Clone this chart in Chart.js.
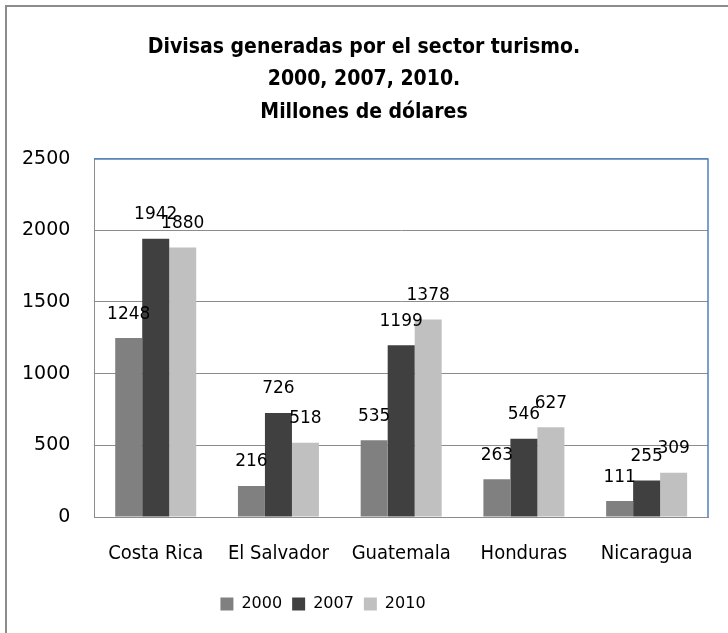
<!DOCTYPE html>
<html><head><meta charset="utf-8">
<script src="https://cdn.jsdelivr.net/npm/chart.js@4"></script>
<style>html,body{margin:0;padding:0;background:#fff;}#wrap{width:728px;height:633px;position:relative;}</style>
</head><body><div id="wrap"><canvas id="c" width="728" height="633"></canvas></div>
<script>
const categories = ["Costa Rica", "El Salvador", "Guatemala", "Honduras", "Nicaragua"];
const seriesNames = ["2000", "2007", "2010"];
const values2000 = [1248, 216, 535, 263, 111];
const values2007 = [1942, 726, 1199, 546, 255];
const values2010 = [1880, 518, 1378, 627, 309];
const yTicks = [0, 500, 1000, 1500, 2000, 2500];
const titleLines = ["Divisas generadas por el sector turismo.", "2000, 2007, 2010.", "Millones de dólares"];

const colors = ["#808080", "#404040", "#c0c0c0"];
const narrow = "'Liberation Sans Narrow', 'DejaVu Sans Condensed', sans-serif";
const wide = "'DejaVu Sans', sans-serif";

const outerBorder = {
  id: 'outerBorder',
  beforeDraw(chart) {
    const ctx = chart.ctx;
    ctx.save();
    ctx.fillStyle = '#fff';
    ctx.fillRect(0, 0, chart.width, chart.height);
    ctx.strokeStyle = '#8c8c8c';
    ctx.lineWidth = 2;
    ctx.beginPath();
    ctx.moveTo(6, chart.height + 5);
    ctx.lineTo(6, 6);
    ctx.lineTo(chart.width + 5, 6);
    ctx.stroke();
    ctx.restore();
  }
};
const plotBorder = {
  id: 'plotBorder',
  afterDraw(chart) {
    const a = chart.chartArea, ctx = chart.ctx;
    ctx.save();
    ctx.lineWidth = 1.5;
    ctx.strokeStyle = '#4f81bd';
    ctx.beginPath();
    ctx.moveTo(Math.round(a.left), Math.round(a.top));
    ctx.lineTo(Math.round(a.right), Math.round(a.top));
    ctx.lineTo(Math.round(a.right), Math.round(a.bottom));
    ctx.stroke();
    ctx.restore();
  }
};
const blockShift = {
  id: 'blockShift',
  afterLayout(chart) {
    const lg = chart.legend;
    if (lg) { lg.left -= 30; lg.right -= 30; lg.top -= 5; lg.bottom -= 5; }
    const tb = chart.titleBlock;
    if (tb) { tb.left += 11; tb.right += 11; }
  }
};
const dataLabels = {
  id: 'dataLabels',
  afterDatasetsDraw(chart) {
    const ctx = chart.ctx;
    ctx.save();
    ctx.font = "17px " + wide;
    ctx.fillStyle = '#000';
    ctx.textAlign = 'center';
    ctx.textBaseline = 'middle';
    chart.data.datasets.forEach((ds, i) => {
      chart.getDatasetMeta(i).data.forEach((el, j) => {
        ctx.fillText(String(ds.data[j]), el.x, el.y - 24);
      });
    });
    ctx.restore();
  }
};

new Chart(document.getElementById('c'), {
  type: 'bar',
  data: {
    labels: categories,
    datasets: [
      { label: seriesNames[0], data: values2000, backgroundColor: colors[0] },
      { label: seriesNames[1], data: values2007, backgroundColor: colors[1] },
      { label: seriesNames[2], data: values2010, backgroundColor: colors[2] }
    ]
  },
  options: {
    responsive: false,
    animation: false,
    devicePixelRatio: 1,
    datasets: { bar: { categoryPercentage: 0.66, barPercentage: 1.0 } },
    layout: { padding: { left: -2, right: 20, top: 31, bottom: 6 } },
    plugins: {
      title: {
        display: true,
        text: titleLines,
        color: '#000',
        font: { family: narrow, size: 21, weight: 'bold', lineHeight: 1.55 },
        padding: { top: 0, bottom: 30 }
      },
      legend: {
        position: 'bottom',
        labels: {
          color: '#000',
          font: { family: wide, size: 16 },
          boxWidth: 13, boxHeight: 13, padding: 10
        }
      },
      tooltip: { enabled: false }
    },
    scales: {
      x: {
        grid: { display: false, drawTicks: false },
        border: { color: '#8c8c8c' },
        ticks: { color: '#000', font: { family: narrow, size: 20 }, padding: 25, maxRotation: 0 }
      },
      y: {
        min: 0, max: 2500,
        afterBuildTicks(axis) { axis.ticks = yTicks.map(v => ({ value: v })); },
        grid: { color: '#8c8c8c', drawTicks: false },
        border: { color: '#8c8c8c' },
        ticks: { color: '#000', font: { family: wide, size: 19 }, padding: 24, callback: v => String(v) }
      }
    }
  },
  plugins: [outerBorder, plotBorder, blockShift, dataLabels]
});
</script></body></html>
